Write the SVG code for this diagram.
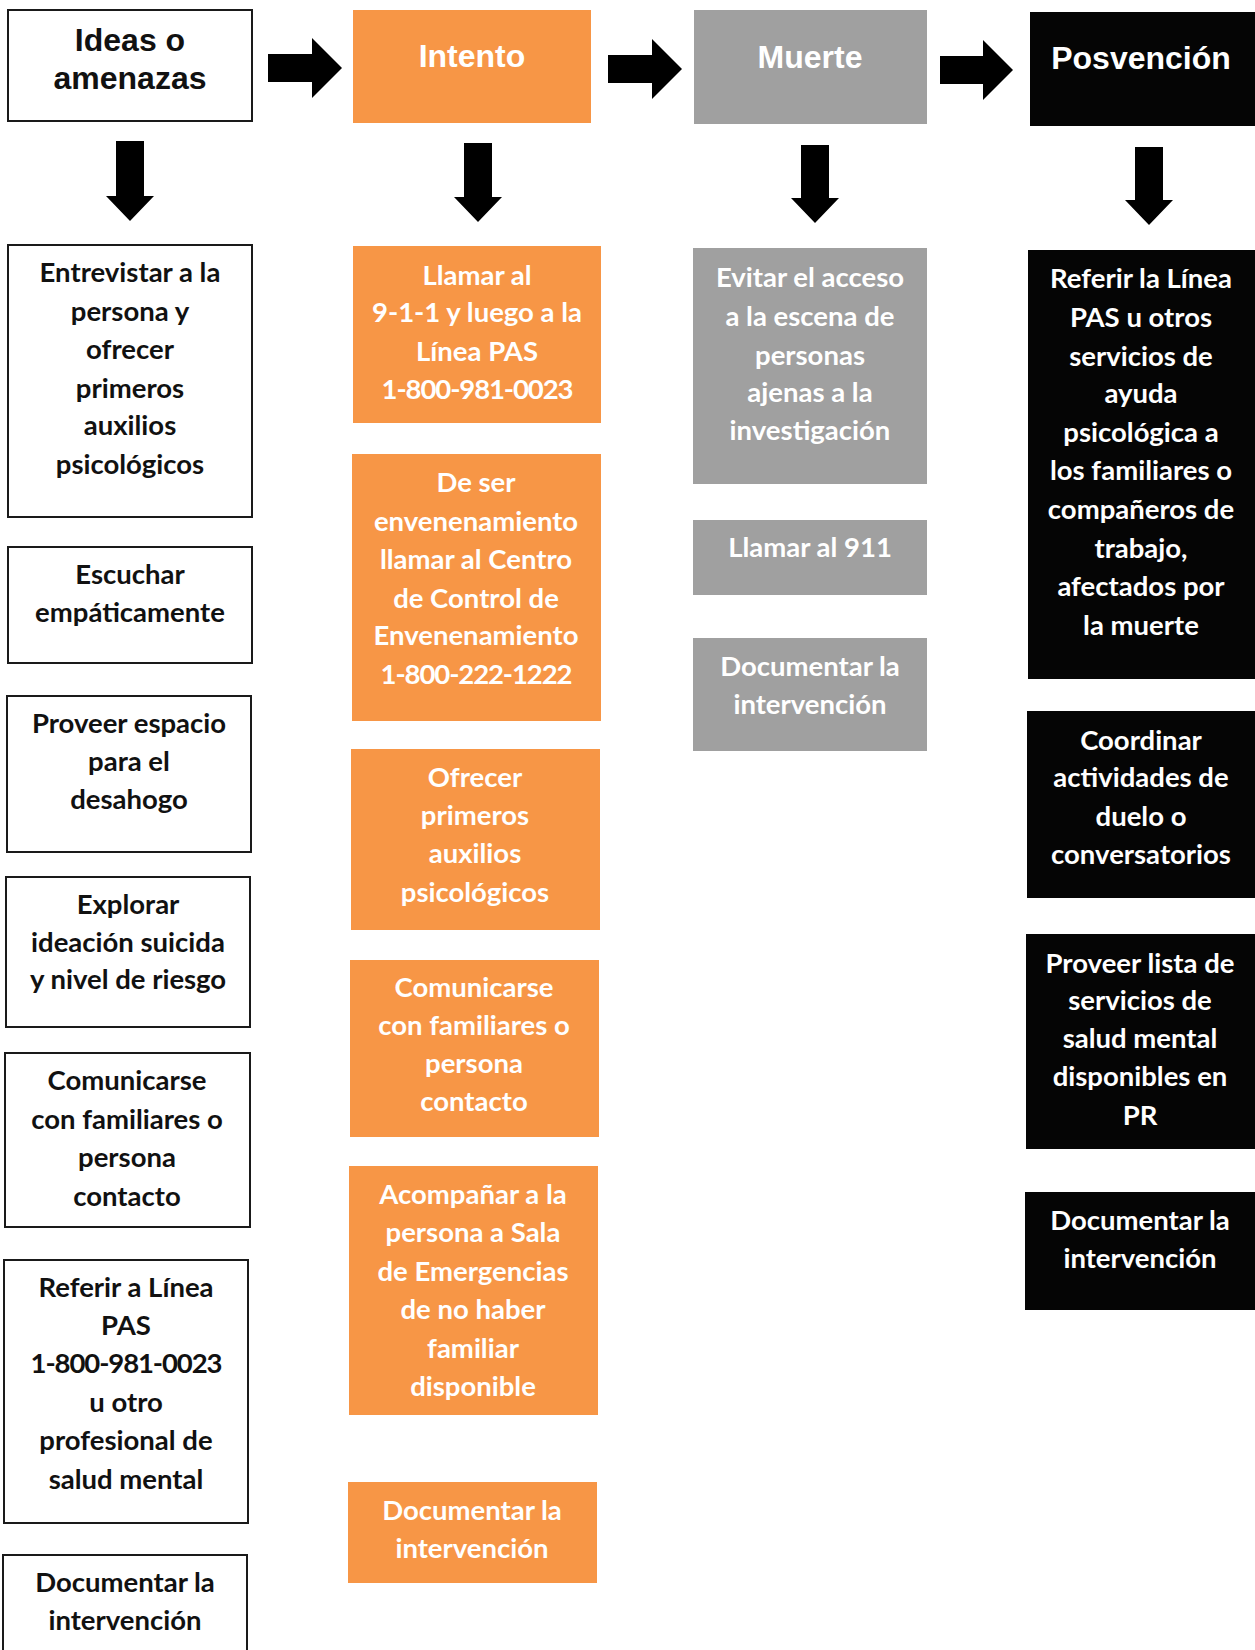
<svg xmlns="http://www.w3.org/2000/svg" width="1255" height="1650" viewBox="0 0 1255 1650">
<style>
.w{fill:#ffffff;stroke:#1a1a1a;stroke-width:2}
.o{fill:#f79646}
.g{fill:#a0a0a0}
.k{fill:#050505}
.hd{font-family:"Liberation Sans",Arial,sans-serif;font-weight:bold;font-size:32px;text-anchor:middle}
.t{font-family:Lato,"Noto Sans",sans-serif;font-weight:bold;font-size:27.5px;text-anchor:middle}
.num{letter-spacing:-1.1px}
.dk{fill:#111111}
.lt{fill:#ffffff}
.ar{fill:#000000}
</style>
<rect width="1255" height="1650" fill="#ffffff"/>
<g id="connectors">
<path class="ar" d="M268,54 H312 V38 L342,68 L312,98 V82 H268 Z"/>
<path class="ar" d="M608,55 H652 V39 L682,69 L652,99 V83 H608 Z"/>
<path class="ar" d="M940,56 H983 V40 L1013,70 L983,100 V84 H940 Z"/>
<path class="ar" d="M116,141 H144 V196 H154 L130,221 L106,196 H116 Z"/>
<path class="ar" d="M464,143 H492 V197 H502 L478,222 L454,197 H464 Z"/>
<path class="ar" d="M801,145 H829 V198 H839 L815,223 L791,198 H801 Z"/>
<path class="ar" d="M1135,147 H1163 V200 H1173 L1149,225 L1125,200 H1135 Z"/>
</g>
<g id="ideas"><rect class="w" x="8" y="10" width="244" height="111"/>
<text class="hd dk" x="130"><tspan x="130" y="51">Ideas o</tspan><tspan x="130" y="89">amenazas</tspan></text></g>
<g id="intento"><rect class="o" x="353" y="10" width="238" height="113"/>
<text class="hd lt" x="472" y="67">Intento</text></g>
<g id="muerte"><rect class="g" x="694" y="10" width="233" height="114"/>
<text class="hd lt" x="810" y="68">Muerte</text></g>
<g id="posvencion"><rect class="k" x="1030" y="12" width="225" height="114"/>
<text class="hd lt" x="1141" y="69">Posvención</text></g>

<g id="c1-entrevistar"><rect class="w" x="8" y="245" width="244" height="272"/>
<text class="t dk"><tspan x="130" y="282">Entrevistar a la</tspan><tspan x="130" y="321">persona y</tspan><tspan x="130" y="359">ofrecer</tspan><tspan x="130" y="398">primeros</tspan><tspan x="130" y="435">auxilios</tspan><tspan x="130" y="474">psicológicos</tspan></text></g>
<g id="c1-escuchar"><rect class="w" x="8" y="547" width="244" height="116"/>
<text class="t dk"><tspan x="130" y="584">Escuchar</tspan><tspan x="130" y="622">empáticamente</tspan></text></g>
<g id="c1-proveer"><rect class="w" x="7" y="696" width="244" height="156"/>
<text class="t dk"><tspan x="129" y="733">Proveer espacio</tspan><tspan x="129" y="771">para el</tspan><tspan x="129" y="809">desahogo</tspan></text></g>
<g id="c1-explorar"><rect class="w" x="6" y="877" width="244" height="150"/>
<text class="t dk"><tspan x="128" y="914">Explorar</tspan><tspan x="128" y="952">ideación suicida</tspan><tspan x="128" y="989">y nivel de riesgo</tspan></text></g>
<g id="c1-comunicarse"><rect class="w" x="5" y="1053" width="245" height="174"/>
<text class="t dk"><tspan x="127" y="1090">Comunicarse</tspan><tspan x="127" y="1129">con familiares o</tspan><tspan x="127" y="1167">persona</tspan><tspan x="127" y="1206">contacto</tspan></text></g>
<g id="c1-referir"><rect class="w" x="4" y="1260" width="244" height="263"/>
<text class="t dk"><tspan x="126" y="1297">Referir a Línea</tspan><tspan x="126" y="1335">PAS</tspan><tspan class="num" x="126" y="1373">1-800-981-0023</tspan><tspan x="126" y="1412">u otro</tspan><tspan x="126" y="1450">profesional de</tspan><tspan x="126" y="1489">salud mental</tspan></text></g>
<g id="c1-documentar"><rect class="w" x="3" y="1555" width="244" height="110"/>
<text class="t dk"><tspan x="125" y="1592">Documentar la</tspan><tspan x="125" y="1630">intervención</tspan></text></g>

<g id="c2-llamar"><rect class="o" x="353" y="246" width="248" height="177"/>
<text class="t lt"><tspan x="477" y="285">Llamar al</tspan><tspan x="477" y="322">9-1-1 y luego a la</tspan><tspan x="477" y="361">Línea PAS</tspan><tspan class="num" x="477" y="399">1-800-981-0023</tspan></text></g>
<g id="c2-envenenamiento"><rect class="o" x="352" y="454" width="249" height="267"/>
<text class="t lt"><tspan x="476" y="492">De ser</tspan><tspan x="476" y="531">envenenamiento</tspan><tspan x="476" y="569">llamar al Centro</tspan><tspan x="476" y="608">de Control de</tspan><tspan x="476" y="645">Envenenamiento</tspan><tspan class="num" x="476" y="684">1-800-222-1222</tspan></text></g>
<g id="c2-ofrecer"><rect class="o" x="351" y="749" width="249" height="181"/>
<text class="t lt"><tspan x="475" y="787">Ofrecer</tspan><tspan x="475" y="825">primeros</tspan><tspan x="475" y="863">auxilios</tspan><tspan x="475" y="902">psicológicos</tspan></text></g>
<g id="c2-comunicarse"><rect class="o" x="350" y="960" width="249" height="177"/>
<text class="t lt"><tspan x="474" y="997">Comunicarse</tspan><tspan x="474" y="1035">con familiares o</tspan><tspan x="474" y="1073">persona</tspan><tspan x="474" y="1111">contacto</tspan></text></g>
<g id="c2-acompanar"><rect class="o" x="349" y="1166" width="249" height="249"/>
<text class="t lt"><tspan x="473" y="1204">Acompañar a la</tspan><tspan x="473" y="1242">persona a Sala</tspan><tspan x="473" y="1281">de Emergencias</tspan><tspan x="473" y="1319">de no haber</tspan><tspan x="473" y="1358">familiar</tspan><tspan x="473" y="1396">disponible</tspan></text></g>
<g id="c2-documentar"><rect class="o" x="348" y="1482" width="249" height="101"/>
<text class="t lt"><tspan x="472" y="1520">Documentar la</tspan><tspan x="472" y="1558">intervención</tspan></text></g>

<g id="c3-evitar"><rect class="g" x="693" y="248" width="234" height="236"/>
<text class="t lt"><tspan x="810" y="287">Evitar el acceso</tspan><tspan x="810" y="326">a la escena de</tspan><tspan x="810" y="365">personas</tspan><tspan x="810" y="402">ajenas a la</tspan><tspan x="810" y="440">investigación</tspan></text></g>
<g id="c3-llamar"><rect class="g" x="693" y="520" width="234" height="75"/>
<text class="t lt" x="810" y="557">Llamar al 911</text></g>
<g id="c3-documentar"><rect class="g" x="693" y="638" width="234" height="113"/>
<text class="t lt"><tspan x="810" y="676">Documentar la</tspan><tspan x="810" y="714">intervención</tspan></text></g>

<g id="c4-referir"><rect class="k" x="1028" y="250" width="227" height="429"/>
<text class="t lt"><tspan x="1141" y="288">Referir la Línea</tspan><tspan x="1141" y="327">PAS u otros</tspan><tspan x="1141" y="366">servicios de</tspan><tspan x="1141" y="403">ayuda</tspan><tspan x="1141" y="442">psicológica a</tspan><tspan x="1141" y="480">los familiares o</tspan><tspan x="1141" y="519">compañeros de</tspan><tspan x="1141" y="558">trabajo,</tspan><tspan x="1141" y="596">afectados por</tspan><tspan x="1141" y="635">la muerte</tspan></text></g>
<g id="c4-coordinar"><rect class="k" x="1027" y="711" width="228" height="187"/>
<text class="t lt"><tspan x="1141" y="750">Coordinar</tspan><tspan x="1141" y="787">actividades de</tspan><tspan x="1141" y="826">duelo o</tspan><tspan x="1141" y="864">conversatorios</tspan></text></g>
<g id="c4-proveer"><rect class="k" x="1026" y="934" width="229" height="215"/>
<text class="t lt"><tspan x="1140" y="973">Proveer lista de</tspan><tspan x="1140" y="1010">servicios de</tspan><tspan x="1140" y="1048">salud mental</tspan><tspan x="1140" y="1086">disponibles en</tspan><tspan x="1140" y="1125">PR</tspan></text></g>
<g id="c4-documentar"><rect class="k" x="1025" y="1192" width="230" height="118"/>
<text class="t lt"><tspan x="1140" y="1230">Documentar la</tspan><tspan x="1140" y="1268">intervención</tspan></text></g>
</svg>
